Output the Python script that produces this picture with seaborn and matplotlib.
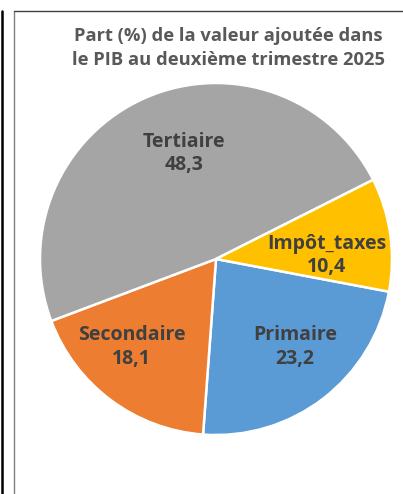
import matplotlib
matplotlib.use('Agg')
import matplotlib.pyplot as plt
import seaborn as sns
from matplotlib.lines import Line2D

sns.set_theme(style='white')
plt.rcParams['font.family'] = ['Open Sans', 'DejaVu Sans']

# data (Excel order, clockwise)
categories = ['Primaire', 'Secondaire', 'Tertiaire', 'Impôt_taxes']
values = [23.2, 18.1, 48.3, 10.4]
value_labels = ['23,2', '18,1', '48,3', '10,4']
colors = ['#5B9BD5', '#ED7D31', '#A5A5A5', '#FFC000']
title = 'Part (%) de la valeur ajoutée dans\nle PIB au deuxième trimestre 2025'

# label centres in axes data units (radius = 1)
label_pos = [(0.45, -0.50), (-0.48, -0.50), (-0.18, 0.60), (0.63, 0.02)]

W, H = 403, 494
fig = plt.figure(figsize=(W / 100, H / 100), dpi=100)
fig.patch.set_facecolor('white')

# pie centre (216, 259) px, radius 176 px
cx, cy, r = 216, 259, 176
ax = fig.add_axes([(cx - r) / W, (H - cy - r) / H, 2 * r / W, 2 * r / H])
wedges, texts = ax.pie(values, colors=colors, startangle=-10.7, counterclock=False,
                       labels=[f'{c}\n{v}' for c, v in zip(categories, value_labels)],
                       labeldistance=0.6,
                       wedgeprops=dict(edgecolor='white', linewidth=1.8),
                       textprops=dict(color='#404040', fontsize=14, fontweight='bold',
                                      ha='center', va='center', linespacing=1.25))
for t, p in zip(texts, label_pos):
    t.set_position(p)
    t.set_horizontalalignment('center')
    t.set_verticalalignment('center')
ax.set_xlim(-1, 1)
ax.set_ylim(-1, 1)
ax.axis('off')

fig.text(228 / W, 1 - 48 / H, title, ha='center', va='center', fontsize=13.2,
         fontweight='bold', color='#595959', linespacing=1.45)

# frame lines of the screenshot
fig.add_artist(Line2D([2 / W, 2 / W], [0, 1 - 11 / H], color='black', lw=1.8))
fig.add_artist(Line2D([14 / W, 14 / W], [0, 1 - 11 / H], color='#808080', lw=1.0))
fig.add_artist(Line2D([14 / W, 1], [1 - 11 / H, 1 - 11 / H], color='#404040', lw=1.0))

fig.savefig('out.png', dpi=100, facecolor='white')
